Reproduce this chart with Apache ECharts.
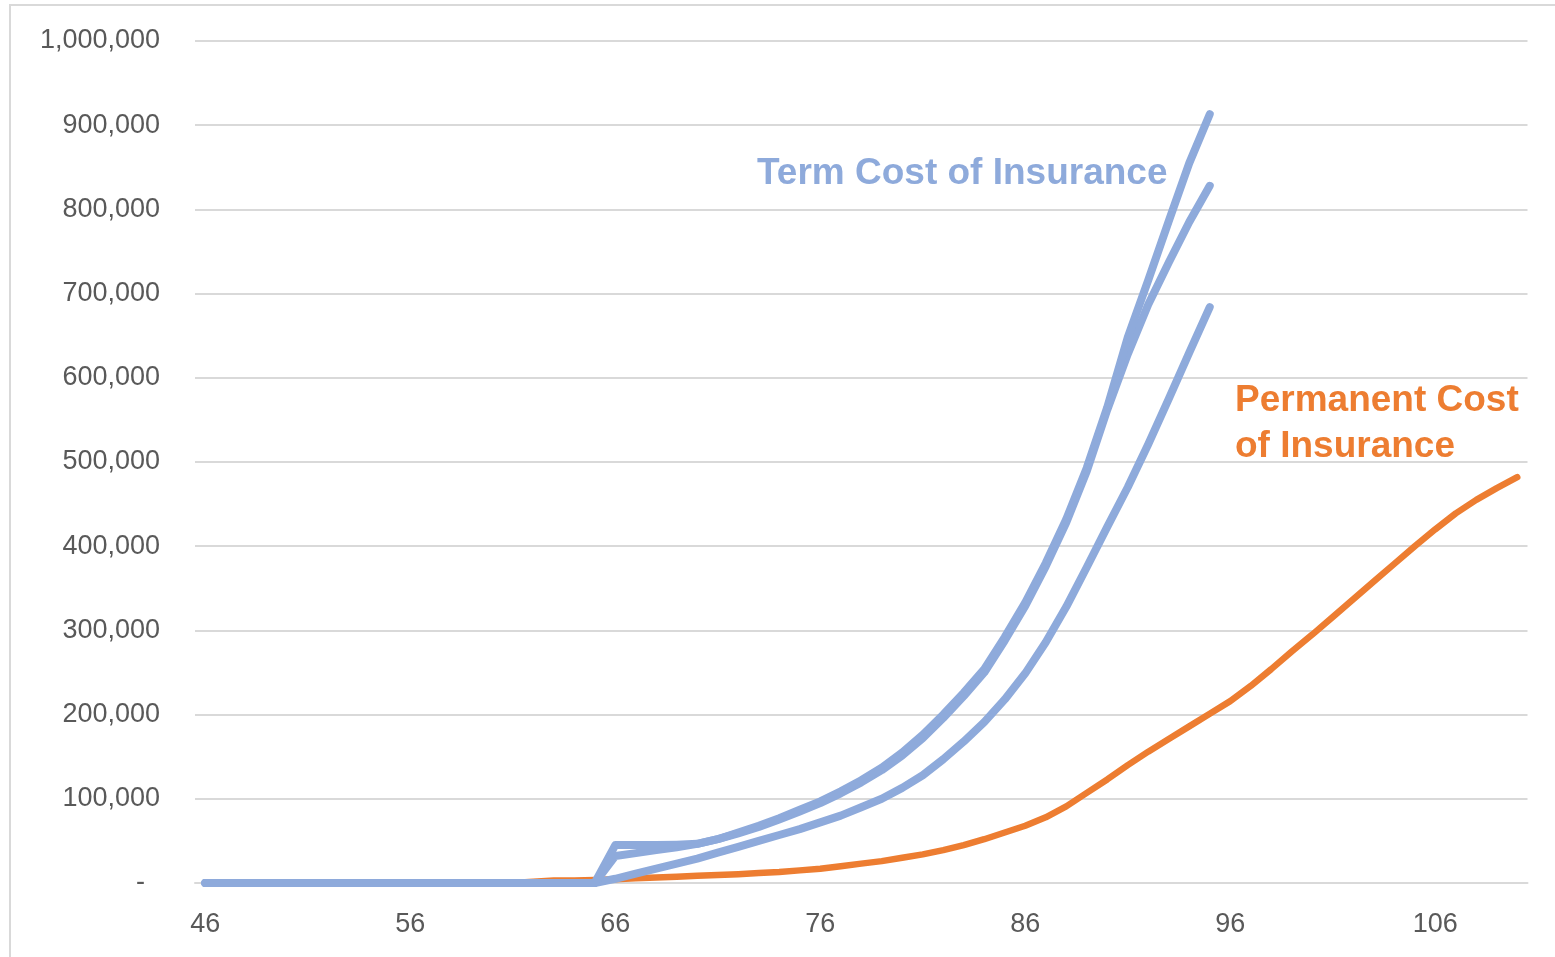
<!DOCTYPE html>
<html>
<head>
<meta charset="utf-8">
<script src="https://cdn.jsdelivr.net/npm/echarts@6/dist/echarts.min.js"></script>
<style>
  html, body { margin: 0; padding: 0; background: #ffffff; }
  #chart { width: 1555px; height: 957px; }
</style>
</head>
<body>
<div id="chart"></div>
<script>
// Age of the insured (one category per year)
const ages = [46, 47, 48, 49, 50, 51, 52, 53, 54, 55, 56, 57, 58, 59, 60, 61, 62, 63, 64, 65,
  66, 67, 68, 69, 70, 71, 72, 73, 74, 75, 76, 77, 78, 79, 80, 81, 82, 83, 84, 85,
  86, 87, 88, 89, 90, 91, 92, 93, 94, 95, 96, 97, 98, 99, 100, 101, 102, 103, 104, 105,
  106, 107, 108, 109, 110];

// Three term-renewal paths, ages 46 to 95
const termA = [0, 0, 0, 0, 0, 0, 0, 0, 0, 0, 0, 0, 0, 0, 0, 0, 0, 0, 0, 0,
  45000, 45000, 45000, 45500, 46500, 52000, 60000, 68000, 77000, 87000,
  97000, 109000, 122000, 137000, 155000, 176000, 200000, 226000, 254000, 292000,
  333000, 380000, 432000, 493000, 565000, 648000, 716000, 786000, 855000, 913000];
const termB = [0, 0, 0, 0, 0, 0, 0, 0, 0, 0, 0, 0, 0, 0, 0, 0, 0, 0, 0, 0,
  32000, 35500, 39000, 42500, 46500, 52000, 59000, 66500, 75500, 85000,
  95000, 106500, 119500, 134000, 151500, 172000, 196000, 222000, 250000, 288000,
  329000, 376000, 428000, 489000, 562000, 628000, 687000, 737000, 785000, 828000];
const termC = [0, 0, 0, 0, 0, 0, 0, 0, 0, 0, 0, 0, 0, 0, 0, 0, 0, 0, 0, 0,
  5000, 11000, 17000, 23000, 29000, 36000, 43000, 50000, 57000, 64000,
  72000, 80000, 90000, 100000, 113000, 128000, 147000, 168000, 191000, 218000,
  249000, 286000, 328000, 375000, 423000, 470000, 521000, 575000, 630000, 684000];

// Permanent policy cost, ages 46 to 110
const permanent = [0, 0, 0, 0, 0, 0, 0, 0, 0, 0, 0, 0, 0, 0, 0, 0, 1500, 3000, 3000, 3500,
  4500, 5500, 6500, 7500, 8500, 9500, 10500, 12000, 13000, 15000,
  17000, 20000, 23000, 26000, 30000, 34000, 39000, 45000, 52000, 60000,
  68000, 78000, 91000, 107000, 123000, 140000, 156000, 171000, 186000, 201000,
  216000, 234000, 254000, 275000, 295000, 316000, 337000, 358000, 379000, 400000,
  420000, 439000, 455000, 469000, 482000];

// Value-axis tick range
const yMin = 0;
const yMax = 1000000;
const yStep = 100000;

const BLUE = '#8eaadb';
const ORANGE = '#ed7d31';
const GRIDLINE = '#d9d9d9';
const LABEL = '#595959';

const chart = echarts.init(document.getElementById('chart'), null, { renderer: 'canvas' });

function lineSeries(name, data, color, width) {
  return {
    name: name,
    type: 'line',
    data: data,
    symbol: 'none',
    smooth: false,
    connectNulls: false,
    lineStyle: { color: color, width: width, cap: 'round', join: 'round' },
    emphasis: { disabled: true },
    animation: false
  };
}

chart.setOption({
  animation: false,
  backgroundColor: '#ffffff',
  grid: { left: 195, right: 27.5, top: 41, bottom: 74, containLabel: false },
  xAxis: {
    type: 'category',
    data: ages,
    boundaryGap: true,
    axisLine: { show: true, lineStyle: { color: GRIDLINE, width: 2 } },
    axisTick: { show: false },
    axisLabel: {
      interval: 9,
      margin: 28,
      color: LABEL,
      fontFamily: 'Liberation Sans',
      fontSize: 27
    },
    splitLine: { show: false }
  },
  yAxis: {
    type: 'value',
    min: yMin,
    max: yMax,
    interval: yStep,
    axisLine: { show: false },
    axisTick: { show: false },
    axisLabel: {
      margin: 35,
      color: LABEL,
      fontFamily: 'Liberation Sans',
      fontSize: 27,
      formatter: function (v) {
        return v === 0 ? '-  ' : v.toLocaleString('en-US');
      }
    },
    splitLine: { show: true, lineStyle: { color: GRIDLINE, width: 2 } }
  },
  series: [
    lineSeries('Permanent', permanent, ORANGE, 6.5),
    lineSeries('Term C', termC, BLUE, 8),
    lineSeries('Term B', termB, BLUE, 8),
    lineSeries('Term A', termA, BLUE, 8)
  ],
  graphic: [
    {
      type: 'rect',
      silent: true,
      z: -10,
      shape: { x: 10, y: 5, width: 1600, height: 1000 },
      style: { fill: 'none', stroke: GRIDLINE, lineWidth: 2 }
    },
    {
      type: 'text',
      left: 757,
      top: 155,
      silent: true,
      style: {
        text: 'Term Cost of Insurance',
        fill: BLUE,
        font: 'bold 37px "Liberation Sans", Arial, sans-serif'
      }
    },
    {
      type: 'text',
      left: 1235,
      top: 378,
      silent: true,
      style: {
        text: 'Permanent Cost\nof Insurance',
        fill: ORANGE,
        lineHeight: 46,
        font: 'bold 37px "Liberation Sans", Arial, sans-serif'
      }
    }
  ]
});
</script>
</body>
</html>
